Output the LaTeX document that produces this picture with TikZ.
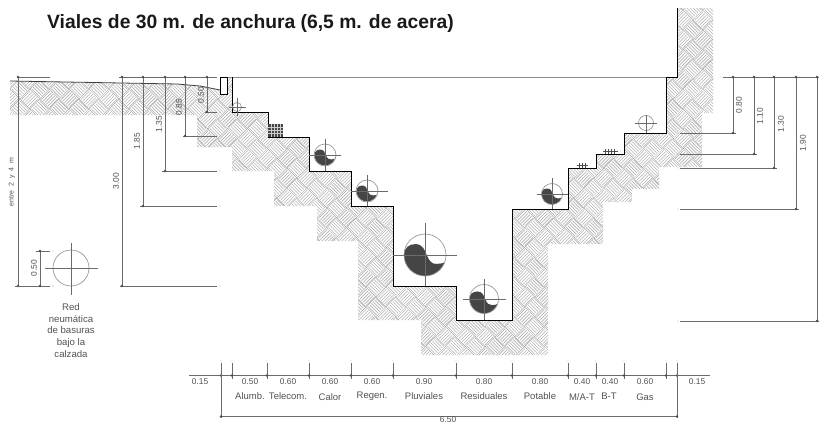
\documentclass[tikz,border=0pt]{standalone}
\usepackage{fontspec}
\setmainfont{Liberation Sans}
\definecolor{dimgray}{gray}{0.42}
\definecolor{textgray}{gray}{0.32}
\definecolor{hatchgray}{gray}{0.70}
\definecolor{hatchedgecol}{gray}{0.58}
\definecolor{blobgray}{gray}{0.27}
\newcommand{\hatchcells}{%
  \foreach \j in {-19,...,36}{%
    \foreach \i in {0,...,55}{%
      \pgfmathsetmacro{\cx}{\i*14}%
      \pgfmathsetmacro{\cy}{\j*14}%
      \pgfmathtruncatemacro{\cellodd}{mod(\i+\j+100,2)}%
      \ifnum\cellodd=0
        \draw[hatchline,shift={(\cx,\cy)}] (1.6,1) -- ++(0,12) (3.9,1) -- ++(0,12) (6.2,1) -- ++(0,12) (8.5,1) -- ++(0,12) (10.8,1) -- ++(0,12) (12.9,1) -- ++(0,12);
      \else
        \draw[hatchline,shift={(\cx,\cy)}] (1,1.6) -- ++(12,0) (1,3.9) -- ++(12,0) (1,6.2) -- ++(12,0) (1,8.5) -- ++(12,0) (1,10.8) -- ++(12,0) (1,12.9) -- ++(12,0);
      \fi
      \draw[hatchedge,shift={(\cx,\cy)}] (0,0) -- (14,0) (0,0) -- (0,14);
    }
  }}
\newcommand{\yinyang}[3]{%
  \fill[blobgray,shift={(#1,#2)},x=#3pt,y=#3pt]
    (0.94,-0.34) arc[start angle=-20,end angle=-180,radius=1]
    .. controls (-1,0.35) and (-0.75,0.52) .. (-0.45,0.52)
    .. controls (-0.1,0.52) and (0,0.2) .. (0.08,0)
    .. controls (0.2,-0.3) and (0.35,-0.45) .. (0.55,-0.42)
    .. controls (0.75,-0.42) and (0.9,-0.38) .. (0.94,-0.34) -- cycle;}
% x y radius left right top bottom
\newcommand{\pipe}[7]{%
  \draw[pipering] (#1,#2) circle[radius=#3];
  \draw[crossline] (#4,#2) -- (#5,#2) (#1,#6) -- (#1,#7);}
% vertical dimension from the top line: x, bottom y, line start, line end, dot end
\newcommand{\vdimline}[5]{%
  \draw[dimline] (#1,77) -- (#1,#2) (#3,#2) -- (#4,#2);
  \fill[dimdot] (#1,77) circle[radius=1.4] (#1,#2) circle[radius=1.4] (#5,#2) circle[radius=.4];}
\newcommand{\htick}[1]{%
  \draw[dimline] (#1,363) -- (#1,379);
  \fill[dimdot] (#1,375.5) circle[radius=1.3] (#1,361) circle[radius=.4];}
\tikzset{
  hatchline/.style={draw=hatchgray,line width=.6pt},
  hatchedge/.style={draw=hatchedgecol,line width=.3pt},
  profile/.style={draw=black,line width=.95pt,line join=miter},
  dimline/.style={draw=dimgray,line width=.7pt},
  dimdot/.style={fill=dimgray!70!black},
  pipering/.style={draw=gray!80,line width=.7pt},
  crossline/.style={draw=dimgray,line width=.7pt},
  dimtext/.style={text=textgray,font=\fontsize{8.4}{9}\selectfont,inner sep=0pt},
  nametext/.style={text=textgray,font=\fontsize{9.5}{10}\selectfont,inner sep=0pt},
  vtext/.style={dimtext,rotate=90},
  boxgrid/.style={fill=gray!55!black},
}
\begin{document}
\begin{tikzpicture}[x=1pt,y=-1pt]
\useasboundingbox (0,0) rectangle (819,423);
% hatched ground
\begin{scope}
\clip (10,81) -- (177,84) -- (200,86) -- (220,90) -- (220,77) -- (232,77) -- (232,112) -- (268,112) -- (268,137) -- (309,137) -- (309,171) -- (351,171) -- (351,206) -- (393,206) -- (393,286) -- (456,286) -- (456,320) -- (512,320) -- (512,209) -- (568,209) -- (568,168) -- (596,168) -- (596,154) -- (624,154) -- (624,133) -- (666,133) -- (666,77) -- (677,77) -- (677,8) -- (713,8) -- (713,113) -- (702,113) -- (702,167) -- (659,167) -- (659,189) -- (632,189) -- (632,202) -- (603,202) -- (603,244) -- (548,244) -- (548,355) -- (421,355) -- (421,320) -- (358,320) -- (358,241) -- (317,241) -- (317,206) -- (274,206) -- (274,171) -- (232,171) -- (232,147) -- (197,147) -- (197,115) -- (10,115) -- cycle;
\begin{scope}[x={(0.7071pt,-0.7071pt)},y={(0.7071pt,0.7071pt)}]
\hatchcells
\end{scope}
\end{scope}
% ground line, street line, kerb
\draw[draw=black!75,line width=.8pt] (10,81) -- (177,84) -- (200,86) -- (220,90);
\draw[draw=gray!90,line width=.8pt] (227,77) -- (666,77);
\draw[draw=black,line width=.8pt,fill=white] (220,77) rectangle (227,94);
% trench profile
\draw[profile] (232,77) -- (232,112) -- (268,112) -- (268,137) -- (309,137) -- (309,171) -- (351,171) -- (351,206) -- (393,206) -- (393,286) -- (456,286) -- (456,320) -- (512,320) -- (512,209) -- (568,209) -- (568,168) -- (596,168) -- (596,154) -- (624,154) -- (624,133) -- (666,133) -- (666,77) -- (677,77) -- (677,8);
% conduits
\yinyang{325}{155}{10.5}
\yinyang{367}{191}{10.5}
\yinyang{425}{255}{21}
\yinyang{484}{299}{14.5}
\yinyang{552}{194}{10.5}
\pipe{237}{107}{4.5}{229}{246}{98}{116}
\pipe{325}{155}{11}{309}{341}{139}{171}
\pipe{367}{191}{11}{351}{388}{175}{206}
\pipe{425}{255}{21}{393}{457}{223}{286}
\pipe{484}{299}{14.5}{463}{506}{279}{320}
\pipe{552}{194}{10.5}{537}{568}{178}{209}
\pipe{646}{123}{7.5}{635}{657}{115}{133}
\pipe{71}{268}{18}{45}{98}{243}{295}
% telecom bank
\fill[boxgrid] (268,124) rectangle (283,137);
\draw[draw=gray!40,line width=.3pt] (268,127) -- (283,127) (268,130) -- (283,130) (268,133) -- (283,133) (271,124) -- (271,137) (274,124) -- (274,137) (277,124) -- (277,137) (280,124) -- (280,137);
% low-voltage and medium-voltage cables
\draw[draw=black!70,line width=.8pt] (603,151) -- (618,151) (577,165) -- (588,165);
\foreach \cablex in {605,608,611,614}{\draw[draw=black!70,line width=1pt] (\cablex,148.5) -- (\cablex,153.5);}
\foreach \cablex in {579,582,585}{\draw[draw=black!70,line width=1pt] (\cablex,162.5) -- (\cablex,167.5);}
% left dimensions
\draw[dimline] (18,77) -- (50,77) (119,77) -- (217,77);
\vdimline{18}{286}{15}{50}{53}
\vdimline{122}{286}{120}{217}{220}
\vdimline{143}{206}{140}{217}{220}
\vdimline{165}{171}{162}{217}{220}
\vdimline{185}{136}{183}{217}{220}
\vdimline{207}{112}{205}{217}{220}
\draw[dimline] (40,251) -- (40,286) (36,251) -- (50,251) (15,286) -- (50,286);
\fill[dimdot] (40,251) circle[radius=1.4] (40,286) circle[radius=1.4] (53,251) circle[radius=.4] (53,286) circle[radius=.4];
\node[vtext] (d300) at (116,181) {3.00};
\node[vtext] (d185) at (137,141) {1.85};
\node[vtext] (d135) at (159,124) {1.35};
\node[vtext] (d085) at (179,107) {0.85};
\node[vtext] (d050) at (201,95) {0.50};
\node[vtext] (d050b) at (34,268) {0.50};
\node[vtext,font=\fontsize{7}{8}\selectfont] (entre) at (12,182) {entre\ \ 2\ \ y\ \ 4\ \ m};
% right dimensions
\draw[dimline] (723,77) -- (819,77);
\fill[dimdot] (721,77) circle[radius=.4];
\foreach \dimx/\dimy/\dimend in {733/133/736,754/154/757,774/168/777,796/209/799,817/321/819}{
  \draw[dimline] (\dimx,77) -- (\dimx,\dimy) (680,\dimy) -- (\dimend,\dimy);
  \fill[dimdot] (\dimx,77) circle[radius=1.4] (\dimx,\dimy) circle[radius=1.4] (678,\dimy) circle[radius=.4];
}
\node[vtext] (r080) at (739,105) {0.80};
\node[vtext] (r110) at (760,116) {1.10};
\node[vtext] (r130) at (781,124) {1.30};
\node[vtext] (r190) at (803,143) {1.90};
% bottom dimensions
\draw[dimline] (189,375.5) -- (710,375.5);
\foreach \tx in {221,232,267,309,351,393,456,512,568,596,624,666,677}{\htick{\tx}}
\draw[dimline] (221,363) -- (221,418) (677,363) -- (677,418) (221,416) -- (677,416);
\fill[dimdot] (221,416.5) circle[radius=1.3] (677,416.5) circle[radius=1.3];
\foreach \lx/\lt [count=\n] in {200/0.15,250/0.50,288/0.60,330/0.60,372/0.60,424/0.90,484/0.80,540/0.80,582/0.40,610/0.40,645/0.60,697/0.15}{
  \node[dimtext] (m\n) at (\lx,382) {\lt};
}
\node[dimtext,anchor=south] (total) at (448,423) {6.50};
\node[nametext] (alumb) at (250,396.5) {Alumb.};
\node[nametext] (telecom) at (288,396.5) {Telecom.};
\node[nametext] (calor) at (330,397.5) {Calor};
\node[nametext] (regen) at (372,396.5) {Regen.};
\node[nametext] (pluv) at (424,396.5) {Pluviales};
\node[nametext] (resid) at (484,396.5) {Residuales};
\node[nametext] (potable) at (540,396.5) {Potable};
\node[nametext] (mat) at (582,397.5) {M/A-T};
\node[nametext] (bt) at (609,396.5) {B-T};
\node[nametext] (gas) at (645,397.5) {Gas};
% note and title
\node[nametext,align=center,font=\fontsize{9.6}{11.7}\selectfont] (red) at (71,330.5) {Red\\neumática\\de basuras\\bajo la\\calzada};
\node[anchor=west,inner sep=0pt,font=\bfseries\fontsize{19.3}{22}\selectfont,text=black!90] (title) at (47,24) {Viales de 30 m. de anchura (6,5 m. de acera)};
\end{tikzpicture}
\end{document}
